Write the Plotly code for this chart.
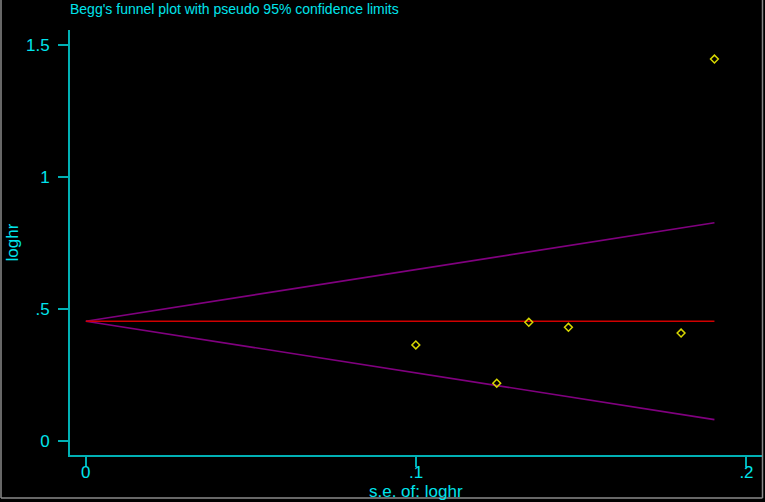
import plotly.graph_objects as go

# study estimates
se_loghr = [0.0999, 0.1244, 0.1341, 0.1461, 0.1802, 0.1903]
loghr = [0.363, 0.218, 0.449, 0.430, 0.408, 1.447]

# pooled estimate and pseudo 95% limits drawn from se = 0 to max se
pooled = 0.453
se_line = [0, 0.1903]
upper = [pooled + 1.96 * s for s in se_line]
lower = [pooled - 1.96 * s for s in se_line]
center = [pooled, pooled]

x_tickvals = [0, 0.1, 0.2]
x_ticktext = ["0", ".1", ".2"]
y_tickvals = [0, 0.5, 1, 1.5]
y_ticktext = ["0", ".5", "1", "1.5"]

CYAN = "#00E4EC"
AXIS = "#00B0B4"
FONT = "Liberation Sans, Arial, sans-serif"

W, H = 765, 502
L, R, T, B = 70, 3, 30, 47

fig = go.Figure()

fig.add_trace(go.Scatter(x=se_line, y=upper, mode="lines",
                         line=dict(color="#80007F", width=1.6), hoverinfo="skip"))
fig.add_trace(go.Scatter(x=se_line, y=lower, mode="lines",
                         line=dict(color="#80007F", width=1.6), hoverinfo="skip"))
fig.add_trace(go.Scatter(x=se_line, y=center, mode="lines",
                         line=dict(color="#D00000", width=1.6), hoverinfo="skip"))
fig.add_trace(go.Scatter(x=se_loghr, y=loghr, mode="markers",
                         marker=dict(symbol="diamond-open", size=6,
                                     color="#D8D800", line=dict(width=1.5))))

fig.update_xaxes(
    range=[-0.0048, 0.2047], tickvals=x_tickvals, ticktext=x_ticktext,
    showgrid=False, zeroline=False, showline=True, linecolor=AXIS, linewidth=2,
    ticks="outside", ticklen=10, tickwidth=1.5, tickcolor=AXIS,
    ticklabelstandoff=-9,
    tickfont=dict(color=CYAN, size=17, family=FONT),
)
fig.update_yaxes(
    range=[-0.0542, 1.557], tickvals=y_tickvals, ticktext=y_ticktext,
    showgrid=False, zeroline=False, showline=True, linecolor=AXIS, linewidth=2,
    ticks="outside", ticklen=10, tickwidth=1.5, tickcolor=AXIS,
    ticklabelstandoff=5,
    tickfont=dict(color=CYAN, size=17, family=FONT),
)

pw = W - L - R
ph = H - T - B
fig.update_layout(
    width=W, height=H,
    margin=dict(l=L, r=R, t=T, b=B),
    paper_bgcolor="black", plot_bgcolor="black",
    showlegend=False,
    font=dict(family=FONT, color=CYAN),
    annotations=[
        dict(text="Begg's funnel plot with pseudo 95% confidence limits",
             xref="paper", yref="paper", x=(68 - L) / pw, y=1 + (T - 9) / ph,
             xanchor="left", yanchor="middle", showarrow=False,
             font=dict(size=14, color=CYAN, family=FONT)),
        dict(text="loghr", xref="paper", yref="paper",
             x=(12 - L) / pw, y=0.5, xanchor="center", yanchor="middle",
             textangle=-90, showarrow=False,
             font=dict(size=17, color=CYAN, family=FONT)),
        dict(text="s.e. of: loghr", xref="paper", yref="paper",
             x=0.5, y=-(491 - (H - B)) / ph, xanchor="center", yanchor="middle",
             showarrow=False, font=dict(size=17, color=CYAN, family=FONT)),
    ],
    shapes=[
        dict(type="line", xref="paper", yref="paper",
             x0=-(L - 1) / pw, x1=-(L - 1) / pw, y0=-(498 - (H - B)) / ph, y1=1 + T / ph,
             line=dict(color="#8A8A8A", width=1.5)),
        dict(type="line", xref="paper", yref="paper",
             x0=-(L - 1) / pw, x1=1 + 0.5 / pw, y0=-(498 - (H - B)) / ph, y1=-(498 - (H - B)) / ph,
             line=dict(color="#8A8A8A", width=1.5)),
        dict(type="line", xref="paper", yref="paper",
             x0=1 + 0.5 / pw, x1=1 + 0.5 / pw, y0=-(498 - (H - B)) / ph, y1=1 + T / ph,
             line=dict(color="#8A8A8A", width=1.5)),
    ],
)

# drop the default page margin so the figure fills the window exactly
fig.write_html("out.html", config={"displayModeBar": False},
               post_script="document.body.style.margin='0';")
